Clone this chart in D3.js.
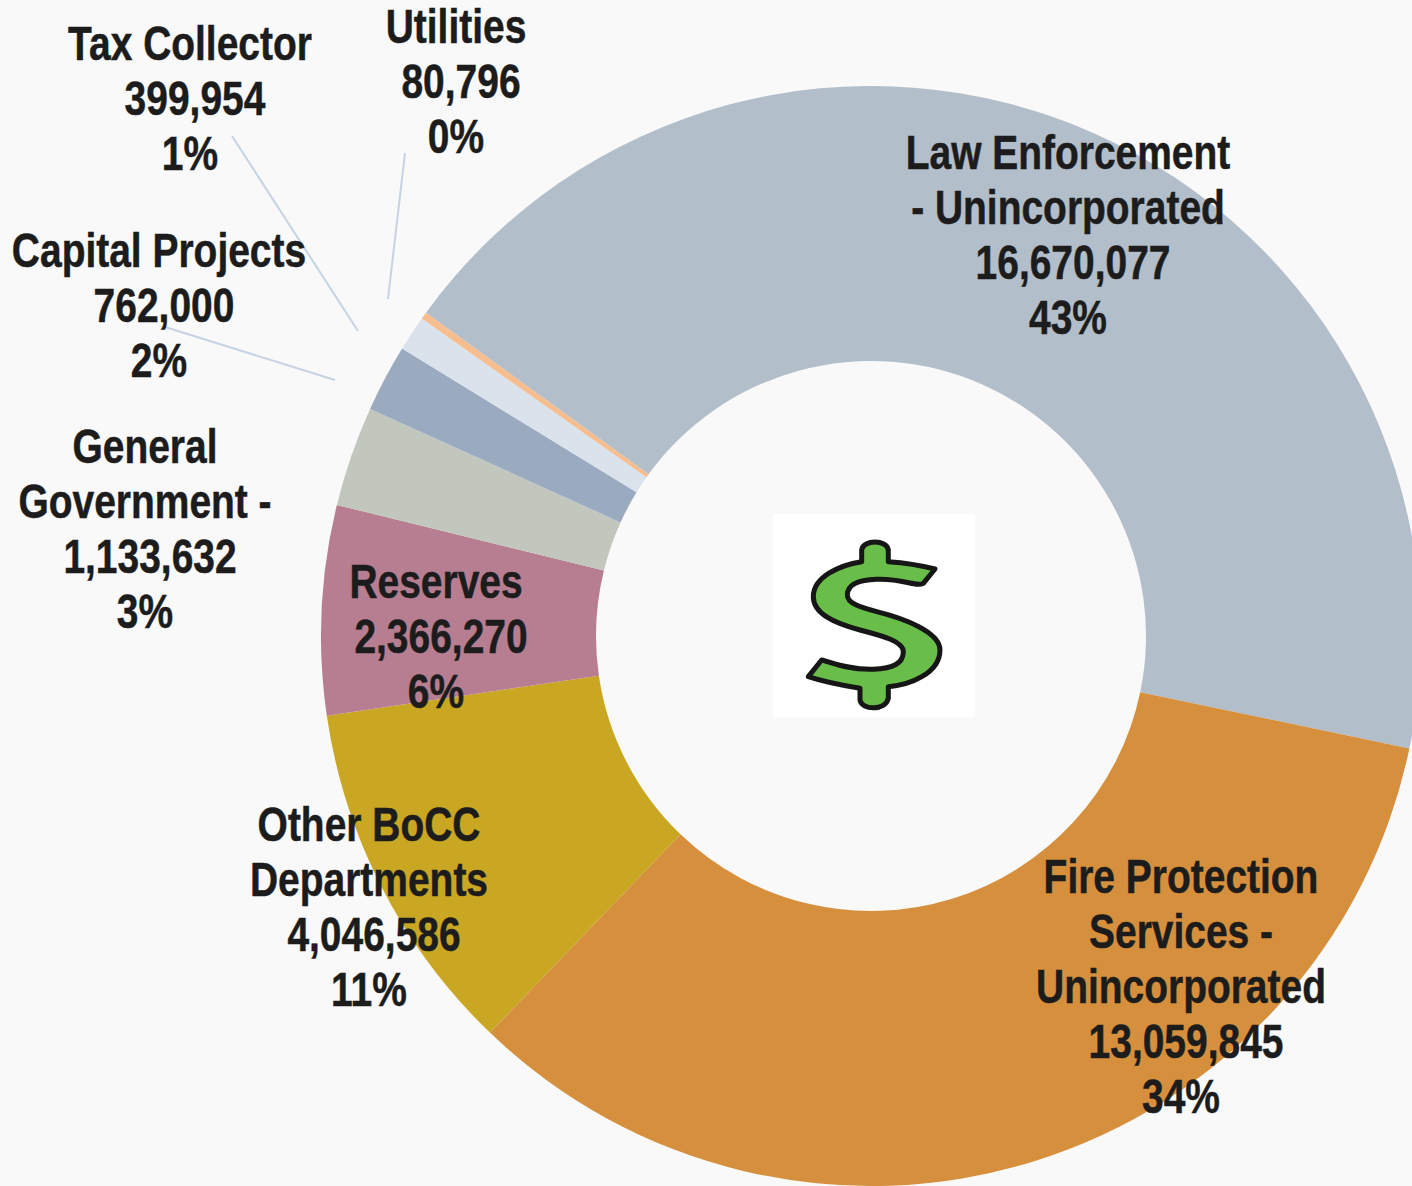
<!DOCTYPE html>
<html>
<head>
<meta charset="utf-8">
<style>
html,body{margin:0;padding:0;background:#f9f9f9;overflow:hidden}
svg{display:block}
text{font-family:"Liberation Sans",Arial,sans-serif;font-weight:700;font-size:47.5px;fill:#1c1c1c;text-anchor:middle;dominant-baseline:central;stroke:#1c1c1c;stroke-width:.5px}
</style>
<script src="https://cdnjs.cloudflare.com/ajax/libs/d3/7.8.5/d3.min.js"></script>
</head>
<body>
<svg id="c" width="1412" height="1186"></svg>
<script>
const categories = ["Law Enforcement - Unincorporated","Fire Protection Services - Unincorporated","Other BoCC Departments","Reserves","General Government -","Capital Projects","Tax Collector","Utilities"];
const values = [16670077,13059845,4046586,2366270,1133632,762000,399954,80796];
const colors = ["#b2bec9","#d68f3d","#caa722","#b77e92","#c1c7bc","#9aabc0","#dae2ec","#f6bd8e"];
const percents = ["43%","34%","11%","6%","3%","2%","1%","0%"];
const nameLines = [["Law Enforcement","- Unincorporated"],["Fire Protection","Services -","Unincorporated"],["Other BoCC","Departments"],["Reserves"],["General","Government -"],["Capital Projects"],["Tax Collector"],["Utilities"]];
// label layout: centre x of the name block, y of the first line, line step
const labelX = [1068,1181,369,436,145,159,190,456];
const labelY = [153,877,825,582,447,251,44,27];
const lineStep = 55;
const numberShift = 5;
const narrow = 0.82;
const leaders = [[[232,136],[358,331]],[[405,153],[388,299]],[[165,327],[335,380]]];

const svg = d3.select("#c");
const cx = 871, cy = 636, outer = 550, inner = 275;
const start = -54.0 * Math.PI / 180;
const pie = d3.pie().sort(null).startAngle(start).endAngle(start + 2 * Math.PI);
const arc = d3.arc().innerRadius(inner).outerRadius(outer);
const fmt = d3.format(",");

svg.append("g").attr("transform", `translate(${cx},${cy})`)
  .selectAll("path").data(pie(values)).join("path")
  .attr("d", arc)
  .attr("fill", (d, i) => colors[i]);

svg.append("g").selectAll("line").data(leaders).join("line")
  .attr("x1", d => d[0][0]).attr("y1", d => d[0][1])
  .attr("x2", d => d[1][0]).attr("y2", d => d[1][1])
  .attr("stroke", "#c5d3e3").attr("stroke-width", 2);

// centre picture
svg.append("rect").attr("x", 773).attr("y", 514).attr("width", 202).attr("height", 203).attr("fill", "#fff");
const defs = svg.append("defs");
defs.append("filter").attr("id", "soft").append("feGaussianBlur").attr("stdDeviation", 0.8);
svg.append("path")
  .attr("transform", "translate(760,500) scale(0.3333)")
  .attr("filter", "url(#soft)")
  .attr("d", "M305,185 L305,150 C310,118 380,118 385,150 L385,185 C430,188 490,198 525,207 L490,250 C470,262 430,235 350,238 C290,240 262,255 262,285 C262,310 300,322 350,335 C430,355 540,395 540,450 C540,520 450,555 385,560 L385,595 C378,632 305,632 300,600 L300,565 C240,555 190,545 145,530 L185,480 C230,495 280,510 340,508 C400,505 430,490 430,455 C430,425 370,408 300,390 C220,368 160,340 160,290 C160,230 240,195 305,185 Z")
  .attr("fill", "#69bd4a").attr("stroke", "#151515").attr("stroke-width", 15).attr("stroke-linejoin", "round");

// labels
const lg = svg.append("g");
const put = (x, y, t) => lg.append("text").attr("transform", `translate(${x},${y}) scale(${narrow},1)`).text(t);
categories.forEach((c, i) => {
  nameLines[i].forEach((t, k) => put(labelX[i], labelY[i] + k * lineStep, t));
  const n = nameLines[i].length;
  put(labelX[i] + numberShift, labelY[i] + n * lineStep, fmt(values[i]));
  put(labelX[i], labelY[i] + (n + 1) * lineStep, percents[i]);
});
</script>
</body>
</html>
